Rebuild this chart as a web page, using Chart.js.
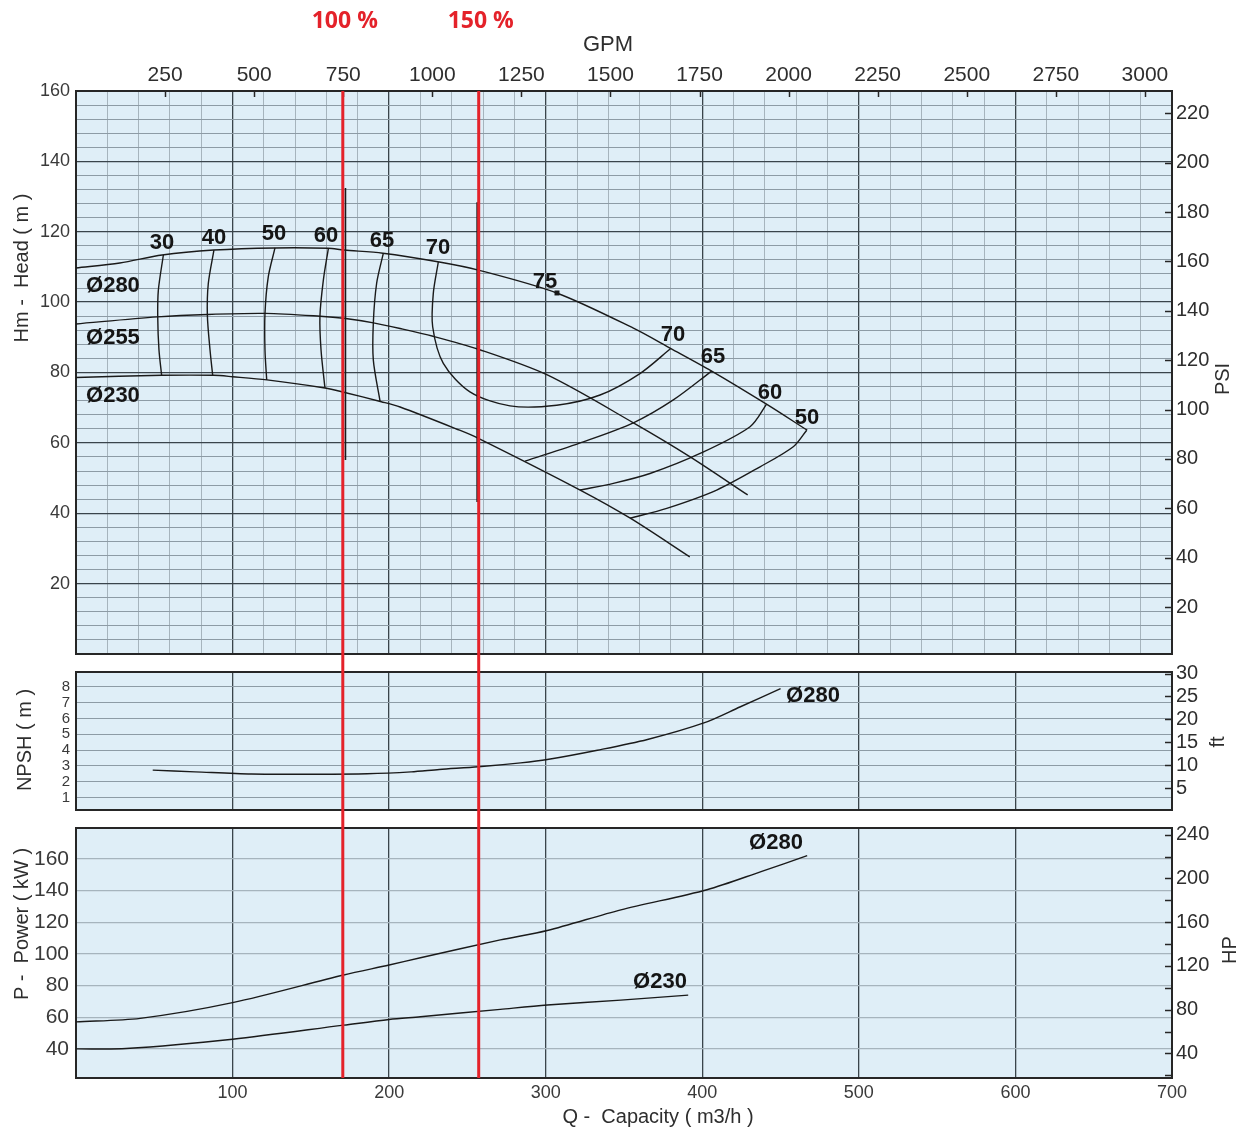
<!DOCTYPE html>
<html>
<head>
<meta charset="utf-8">
<title>Pump curve</title>
<script src="https://cdn.jsdelivr.net/npm/chart.js@4.4.1/dist/chart.umd.min.js"></script>
<style>
  html, body { margin: 0; padding: 0; background: #fff; }
  #page { position: relative; width: 1251px; height: 1133px; overflow: hidden; }
  .panel { position: absolute; left: 0; width: 1251px; }
</style>
</head>
<body>
<div id="page">
  <div class="panel" style="top:0;height:662px"><canvas id="headChart"></canvas></div>
  <div class="panel" style="top:662px;height:157px"><canvas id="npshChart"></canvas></div>
  <div class="panel" style="top:819px;height:314px"><canvas id="powerChart"></canvas></div>
</div>
<script>
// axis ticks
const flowTicks = [100, 200, 300, 400, 500, 600, 700];
const gpmTicks = [250, 500, 750, 1000, 1250, 1500, 1750, 2000, 2250, 2500, 2750, 3000];
const headTicks = [20, 40, 60, 80, 100, 120, 140, 160];
const psiTicks = [20, 40, 60, 80, 100, 120, 140, 160, 180, 200, 220];
const npshTicks = [1, 2, 3, 4, 5, 6, 7, 8];
const ftTicks = [5, 10, 15, 20, 25, 30];
const powerTicks = [40, 60, 80, 100, 120, 140, 160];
const hpTicks = [40, 80, 120, 160, 200, 240];

// duty points (m3/h)
const dutyLabels = ['100 %', '150 %'];
const dutyFlows = [170.4, 257.2];

// head curves per impeller
const head280Q = [0, 28, 55, 88, 127, 161, 171, 196, 232, 257, 307, 356, 380, 406, 441, 467];
const head280H = [109.7, 111.1, 113.4, 114.8, 115.4, 115.3, 114.8, 113.9, 111.4, 109.1, 102.6, 92.6, 86.8, 80.4, 71, 63.6];
const head255Q = [0, 52, 84, 121, 156, 171, 190, 207, 228, 257, 301, 356, 392, 429];
const head255H = [93.8, 95.8, 96.5, 96.8, 96, 95.4, 94.1, 92.5, 90.3, 86.6, 79.3, 65.7, 56.1, 45.2];
const head230Q = [0, 55, 88, 100, 122, 159, 171, 195, 207, 245, 257, 322, 354, 392];
const head230H = [78.6, 79.2, 79.2, 78.8, 77.9, 75.6, 74.4, 71.7, 70.2, 63.6, 61.3, 46.6, 38.6, 27.6];

// iso-efficiency lines
const eff30Q = [55.8, 52.6, 52.2, 53, 54.7];
const eff30H = [113.4, 103.4, 95.8, 86.4, 79.2];
const eff40Q = [88.1, 84.5, 83.9, 85.6, 87.3];
const eff40H = [114.8, 105.3, 96.3, 86.4, 79.2];
const eff50Q = [127.1, 122.8, 120.7, 120.7, 121.8];
const eff50H = [115.4, 107.2, 96.8, 86.4, 77.9];
const eff60Q = [161.2, 158, 155.8, 156.5, 159];
const eff60H = [115.3, 106.3, 96, 86.4, 75.6];
const eff65Q = [196.3, 192, 189.9, 189.9, 194.2];
const eff65H = [113.9, 105.3, 94.1, 83.5, 71.8];
const eff70Q = [231.4, 228.2, 227.8, 234.6, 251.6, 277.2, 307, 334.7, 360.2, 379.8];
const eff70H = [111.4, 102.5, 93, 82.6, 74.5, 70.5, 70.7, 73.6, 79.7, 86.8];
const eff65bQ = [406, 381.5, 356, 324, 286.8];
const eff65bH = [80.4, 72.2, 65.7, 60.3, 54.8];
const eff60bQ = [441.1, 430.5, 398.6, 366.6, 343.2, 321.9];
const eff60bH = [71, 64.6, 57, 51.3, 48.5, 46.6];
const eff50bQ = [466.7, 458.1, 436.9, 409.2, 377.3, 353.8];
const eff50bH = [63.6, 58.9, 53.2, 46.6, 41.4, 38.6];
const bepQ = [307.2];
const bepH = [102.6];

// old black markers under the red lines
const guideQ = [172.1, 256.2];
const guideTopH = [132.4, 128.4];
const guideBottomH = [55.1, 43.2];

const effLabelText = ['30', '40', '50', '60', '65', '70', '75', '70', '65', '60', '50'];
const effLabelQ = [54.9, 88.1, 126.5, 159.7, 195.4, 231.2, 299.5, 381.3, 406.8, 443.3, 466.9];
const effLabelH = [116.9, 118.2, 119.3, 118.8, 117.3, 115.3, 105.8, 90.6, 84.3, 74.1, 67];
const diaLabelText = ['Ø280', 'Ø255', 'Ø230'];
const diaLabelQ = [23.6, 23.6, 23.6];
const diaLabelH = [104.5, 89.8, 73.3];

// NPSH required
const npshQ = [49, 76, 112, 150, 186, 214, 232, 257, 284, 301, 333, 365, 401, 424, 450];
const npshM = [2.73, 2.62, 2.48, 2.47, 2.5, 2.62, 2.77, 2.94, 3.19, 3.4, 3.99, 4.67, 5.72, 6.73, 7.9];

// shaft power
const power280Q = [0, 41, 100, 171, 200, 220, 271, 301, 348, 403, 438, 467];
const power280P = [57.1, 59.3, 69.2, 86.7, 93, 97.6, 108.9, 114.8, 127.9, 140.6, 152.2, 162.1];
const power230Q = [0, 32, 100, 171, 200, 220, 271, 301, 348, 391];
const power230P = [40, 40.2, 46.1, 55, 58.6, 60.3, 65, 67.7, 70.8, 74];

const font = "'Liberation Sans', Arial, sans-serif";
const ink = '#1a1a1a';
const labelInk = '#2e2e2e';
const plotBg = '#dfeef7';
const gridMajor = '#3a444b';
const gridMinorH = '#8d9ba5';
const gridMinorV = '#a6b4bd';
const red = '#e4222a';

const pts = (q, v) => q.map((x, i) => ({ x, y: v[i] }));
const asTicks = arr => arr.map(value => ({ value }));
const steps = (a, b, d) => {
    const out = [];
    for (let v = a; v <= b + 1e-9; v += d) out.push({ value: +v.toFixed(3) });
    return out;
};
const fixW = w => s => { s.width = w; s.paddingTop = 0; s.paddingBottom = 0; };
const fixH = h => s => { s.height = h; s.paddingLeft = 0; s.paddingRight = 0; };
const isMajor = (c, m) => c.tick && Math.abs(c.tick.value % m) < 1e-6;
const plain = v => String(v);

function curve(q, v, extra) {
    return Object.assign({
        data: pts(q, v), showLine: true, borderColor: ink, borderWidth: 1.4,
        pointRadius: 0, tension: 0.3, fill: false
    }, extra);
}

function panelPlugin(cfg) {
    return {
        id: 'panel',
        beforeDraw(chart) {
            const { ctx, chartArea: a } = chart;
            ctx.save();
            ctx.fillStyle = plotBg;
            ctx.fillRect(a.left, a.top, a.right - a.left, a.bottom - a.top);
            ctx.restore();
        },
        beforeDatasetsDraw(chart) {
            const { ctx, chartArea: a } = chart;
            ctx.save();
            ctx.strokeStyle = '#262626';
            ctx.lineWidth = 2;
            ctx.strokeRect(a.left, a.top, a.right - a.left, a.bottom - a.top);
            ctx.lineWidth = 1.5;
            (cfg.inTicks || []).forEach(id => {
                const s = chart.scales[id];
                s.ticks.forEach(t => {
                    const p = Math.round(s.getPixelForValue(t.value)) + 0.5;
                    ctx.beginPath();
                    if (s.isHorizontal()) { ctx.moveTo(p, a.top); ctx.lineTo(p, a.top + 6); }
                    else { ctx.moveTo(a.right, p); ctx.lineTo(a.right - 7, p); }
                    ctx.stroke();
                });
            });
            ctx.restore();
        },
        afterDatasetsDraw(chart) {
            const { ctx, chartArea: a, scales } = chart;
            ctx.save();
            ctx.strokeStyle = red;
            ctx.lineWidth = 3;
            const top = cfg.redFromArea ? a.top : 0;
            const bottom = cfg.redToArea ? a.bottom : chart.height;
            dutyFlows.forEach(q => {
                const px = scales.x.getPixelForValue(q);
                ctx.beginPath(); ctx.moveTo(px, top); ctx.lineTo(px, bottom); ctx.stroke();
            });
            ctx.fillStyle = '#151515';
            ctx.font = 'bold 22px ' + font;
            ctx.textAlign = 'center';
            ctx.textBaseline = 'middle';
            (cfg.labels || []).forEach(l => {
                ctx.fillText(l.text, scales.x.getPixelForValue(l.x), scales.y.getPixelForValue(l.y));
            });
            (cfg.titles || []).forEach(t => {
                ctx.save();
                ctx.translate(t.x, t.y);
                ctx.rotate((t.rot || 0) * Math.PI / 180);
                ctx.fillStyle = t.color || labelInk;
                ctx.font = t.font || ('20px ' + font);
                ctx.fillText(t.text, 0, 0);
                ctx.restore();
            });
            if (cfg.dutyText) {
                ctx.fillStyle = red;
                ctx.font = "bold 23px 'Open Sans', " + font;
                dutyLabels.forEach((txt, i) => ctx.fillText(txt, scales.x.getPixelForValue(dutyFlows[i]) + 2, 21));
            }
            ctx.restore();
        }
    };
}

const baseOptions = () => ({
    animation: false,
    responsive: true,
    maintainAspectRatio: false,
    events: [],
    plugins: { legend: { display: false }, tooltip: { enabled: false } }
});

const tickFont = size => ({ family: font, size });

// ---- head / efficiency chart ----
const headLabels = effLabelText.map((t, i) => ({ text: t, x: effLabelQ[i], y: effLabelH[i] }))
    .concat(diaLabelText.map((t, i) => ({ text: t, x: diaLabelQ[i], y: diaLabelH[i] })));

const headSets = [
    curve(head280Q, head280H),
    curve(head255Q, head255H),
    curve(head230Q, head230H),
    curve(eff30Q, eff30H), curve(eff40Q, eff40H), curve(eff50Q, eff50H),
    curve(eff60Q, eff60H), curve(eff65Q, eff65H), curve(eff70Q, eff70H),
    curve(eff65bQ, eff65bH), curve(eff60bQ, eff60bH), curve(eff50bQ, eff50bH),
    { data: pts(bepQ, bepH), pointStyle: 'rect', pointRadius: 3.5, backgroundColor: ink, borderColor: ink, borderWidth: 0 }
].concat(guideQ.map((q, i) => curve([q, q], [guideTopH[i], guideBottomH[i]], { tension: 0, borderWidth: 1.6 })));

const headOpts = baseOptions();
headOpts.layout = { padding: 0 };
headOpts.scales = {
    x: {
        type: 'linear', position: 'bottom', min: 0, max: 700,
        afterBuildTicks: s => { s.ticks = steps(20, 680, 20); },
        afterFit: fixH(8),
        ticks: { display: false },
        border: { display: false },
        grid: {
            drawTicks: false,
            color: c => isMajor(c, 100) ? gridMajor : gridMinorV,
            lineWidth: c => isMajor(c, 100) ? 1.3 : 1
        }
    },
    x2: {
        type: 'linear', position: 'top', min: 0, max: 3076,
        afterBuildTicks: s => { s.ticks = asTicks(gpmTicks); },
        afterFit: fixH(91),
        ticks: { font: tickFont(21), color: labelInk, padding: 3, autoSkip: false, maxRotation: 0, callback: plain },
        border: { display: false },
        grid: { drawOnChartArea: false, drawTicks: false }
    },
    y: {
        type: 'linear', position: 'left', min: 0, max: 160,
        afterBuildTicks: s => { s.ticks = steps(4, 160, 4); },
        afterFit: fixW(76),
        ticks: { font: tickFont(18), color: '#3a3a3a', padding: 6, autoSkip: false, callback: v => headTicks.includes(v) ? plain(v) : '' },
        border: { display: false },
        grid: {
            drawTicks: false,
            color: c => isMajor(c, 20) ? gridMajor : gridMinorH,
            lineWidth: c => isMajor(c, 20) ? 1.3 : 1
        }
    },
    y2: {
        type: 'linear', position: 'right', min: 1, max: 229,
        afterBuildTicks: s => { s.ticks = asTicks(psiTicks); },
        afterFit: fixW(79),
        ticks: { font: tickFont(20), color: labelInk, padding: 4, autoSkip: false, callback: plain },
        border: { display: false },
        grid: { drawOnChartArea: false, drawTicks: false }
    }
};

new Chart(document.getElementById('headChart'), {
    type: 'scatter',
    data: { datasets: headSets },
    options: headOpts,
    plugins: [panelPlugin({
        inTicks: ['x2', 'y2'],
        redFromArea: true,
        dutyText: true,
        labels: headLabels,
        titles: [
            { text: 'Hm -  Head ( m )', x: 22, y: 268, rot: -90 },
            { text: 'PSI', x: 1223, y: 379, rot: -90 },
            { text: 'GPM', x: 608, y: 45, font: '22px ' + font }
        ]
    })]
});

// ---- NPSH chart ----
const npshOpts = baseOptions();
npshOpts.layout = { padding: { top: 10 } };
npshOpts.scales = {
    x: {
        type: 'linear', position: 'bottom', min: 0, max: 700,
        afterBuildTicks: s => { s.ticks = steps(100, 600, 100); },
        afterFit: fixH(9),
        ticks: { display: false },
        border: { display: false },
        grid: { drawTicks: false, color: gridMajor, lineWidth: 1.3 }
    },
    y: {
        type: 'linear', position: 'left', min: 0.2, max: 8.95,
        afterBuildTicks: s => { s.ticks = asTicks(npshTicks); },
        afterFit: fixW(76),
        ticks: { font: tickFont(15), color: '#3a3a3a', padding: 6, autoSkip: false, callback: plain },
        border: { display: false },
        grid: { drawTicks: false, color: gridMinorH, lineWidth: 1 }
    },
    y2: {
        type: 'linear', position: 'right', min: 0.19, max: 30.35,
        afterBuildTicks: s => { s.ticks = asTicks(ftTicks); },
        afterFit: fixW(79),
        ticks: { font: tickFont(20), color: labelInk, padding: 4, autoSkip: false, callback: plain },
        border: { display: false },
        grid: { drawOnChartArea: false, drawTicks: false }
    }
};

new Chart(document.getElementById('npshChart'), {
    type: 'scatter',
    data: { datasets: [curve(npshQ, npshM, { tension: 0.3 })] },
    options: npshOpts,
    plugins: [panelPlugin({
        inTicks: ['y2'],
        labels: [{ text: 'Ø280', x: 470.7, y: 7.41 }],
        titles: [
            { text: 'NPSH ( m )', x: 25, y: 78, rot: -90 },
            { text: 'ft', x: 1218, y: 80, rot: -90 }
        ]
    })]
});

// ---- power chart ----
const powerOpts = baseOptions();
powerOpts.layout = { padding: { top: 9 } };
powerOpts.scales = {
    x: {
        type: 'linear', position: 'bottom', min: 0, max: 700,
        afterBuildTicks: s => { s.ticks = asTicks(flowTicks); },
        afterFit: fixH(55),
        ticks: { font: tickFont(18), color: '#3a3a3a', padding: 4, autoSkip: false, maxRotation: 0, callback: plain },
        border: { display: false },
        grid: { drawTicks: false, color: gridMajor, lineWidth: 1.3 }
    },
    y: {
        type: 'linear', position: 'left', min: 21.6, max: 179.6,
        afterBuildTicks: s => { s.ticks = asTicks(powerTicks); },
        afterFit: fixW(76),
        ticks: { font: { family: "'Liberation Sans Narrow', " + font, size: 21 }, color: '#3a3a3a', padding: 7, autoSkip: false, callback: plain },
        border: { display: false },
        grid: { drawTicks: false, color: gridMinorV, lineWidth: 1.2 }
    },
    y2: {
        type: 'linear', position: 'right', min: 17.6, max: 246.1,
        afterBuildTicks: s => { s.ticks = steps(20, 240, 20); },
        afterFit: fixW(79),
        ticks: { font: tickFont(20), color: labelInk, padding: 4, autoSkip: false, callback: v => hpTicks.includes(v) ? plain(v) : '' },
        border: { display: false },
        grid: { drawOnChartArea: false, drawTicks: false }
    }
};

new Chart(document.getElementById('powerChart'), {
    type: 'scatter',
    data: { datasets: [curve(power280Q, power280P), curve(power230Q, power230P)] },
    options: powerOpts,
    plugins: [panelPlugin({
        inTicks: ['y2'],
        redToArea: true,
        labels: [{ text: 'Ø280', x: 447.1, y: 170.4 }, { text: 'Ø230', x: 373, y: 82.3 }],
        titles: [
            { text: 'P -  Power ( kW )', x: 22, y: 105, rot: -90 },
            { text: 'HP', x: 1230, y: 131, rot: -90 },
            { text: 'Q -  Capacity ( m3/h )', x: 658, y: 298 }
        ]
    })]
});
</script>
</body>
</html>
